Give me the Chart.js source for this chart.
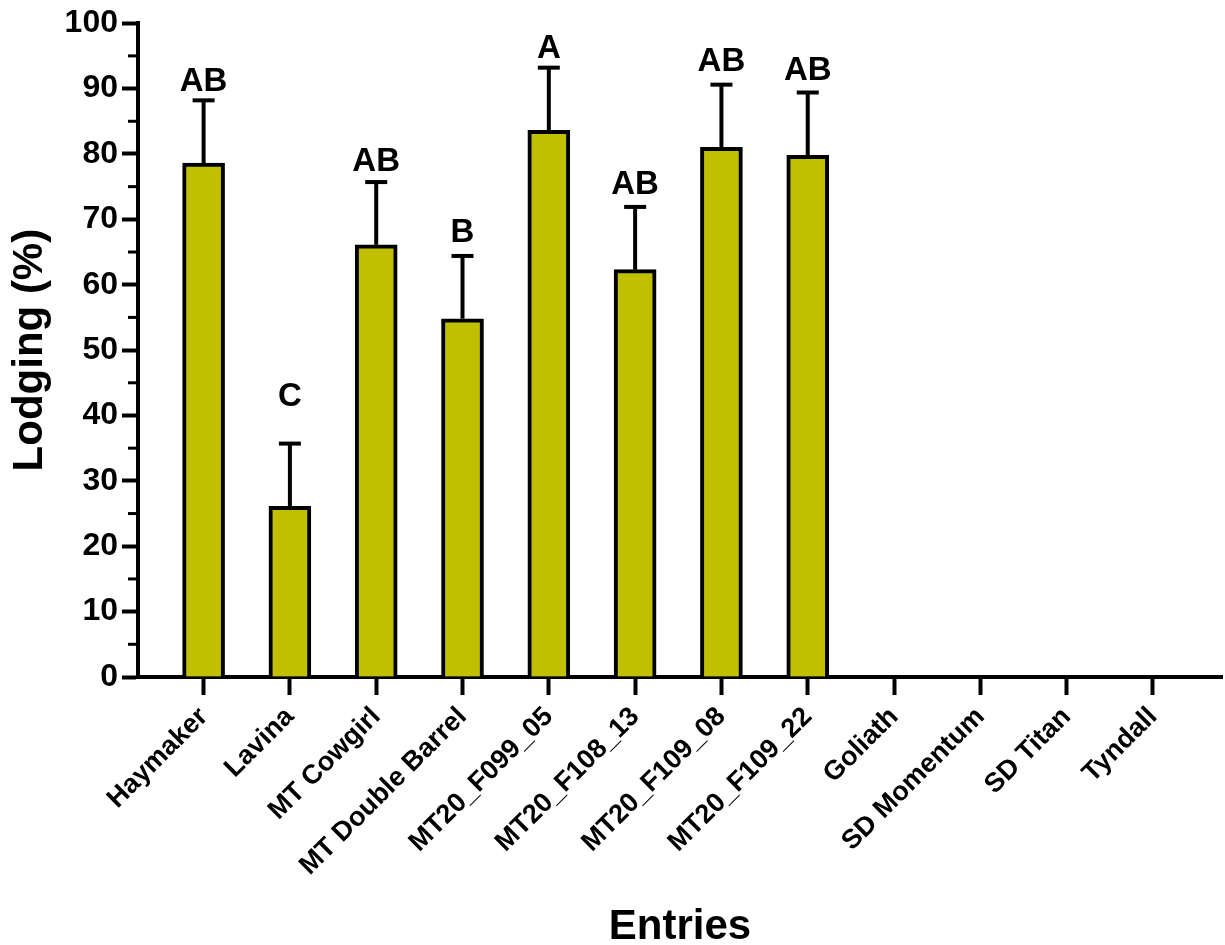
<!DOCTYPE html>
<html>
<head>
<meta charset="utf-8">
<script src="https://cdn.jsdelivr.net/npm/chart.js@4/dist/chart.umd.min.js"></script>
<style>
  html, body { margin: 0; padding: 0; background: #fff; }
  #wrap { width: 1225px; height: 945px; }
</style>
</head>
<body>
<div id="wrap"><canvas id="c" width="1225" height="945"></canvas></div>
<script>
// ---- data ----
const categories = ['Haymaker', 'Lavina', 'MT Cowgirl', 'MT Double Barrel', 'MT20_F099_05',
  'MT20_F108_13', 'MT20_F109_08', 'MT20_F109_22', 'Goliath', 'SD Momentum', 'SD Titan', 'Tyndall'];
const lodgingMeans = [78.6, 26.1, 66.1, 54.8, 83.6, 62.3, 81.0, 79.8, null, null, null, null];
const lodgingSD = [9.6, 9.6, 9.6, 9.6, 9.6, 9.6, 9.6, 9.6, null, null, null, null];
const groupLetters = ['AB', 'C', 'AB', 'B', 'A', 'AB', 'AB', 'AB', '', '', '', ''];
const letterValues = [89.6, 41.5, 77.4, 66.6, 94.7, 73.9, 92.7, 91.3, null, null, null, null];
const yTickValues = [0, 10, 20, 30, 40, 50, 60, 70, 80, 90, 100];
const yMinorTickValues = [5, 15, 25, 35, 45, 55, 65, 75, 85, 95];

const FONT = "'Liberation Sans', Arial, Helvetica, sans-serif";

const errorBarPlugin = {
  id: 'errorBars',
  afterDatasetsDraw(chart) {
    const xs = chart.scales.x, ys = chart.scales.y;
    const ctx = chart.ctx;
    ctx.save();
    ctx.strokeStyle = '#000';
    ctx.lineWidth = 4;
    ctx.lineCap = 'butt';
    lodgingMeans.forEach((m, i) => {
      if (m == null) return;
      const x = xs.getPixelForValue(i);
      const y0 = ys.getPixelForValue(m);
      const y1 = ys.getPixelForValue(m + lodgingSD[i]);
      ctx.beginPath();
      ctx.moveTo(x, y0);
      ctx.lineTo(x, y1);
      ctx.stroke();
      ctx.beginPath();
      ctx.moveTo(x - 11, y1);
      ctx.lineTo(x + 11, y1);
      ctx.stroke();
    });
    ctx.fillStyle = '#000';
    ctx.font = 'bold 33px ' + FONT;
    ctx.textAlign = 'center';
    ctx.textBaseline = 'alphabetic';
    groupLetters.forEach((t, i) => {
      if (!t) return;
      ctx.fillText(t, xs.getPixelForValue(i), ys.getPixelForValue(letterValues[i]));
    });
    // minor y ticks
    ctx.lineWidth = 3;
    yMinorTickValues.forEach(v => {
      const y = ys.getPixelForValue(v);
      ctx.beginPath();
      ctx.moveTo(chart.chartArea.left - 10, y);
      ctx.lineTo(chart.chartArea.left, y);
      ctx.stroke();
    });
    ctx.restore();
  }
};

new Chart(document.getElementById('c'), {
  type: 'bar',
  data: {
    datasets: [{
      data: lodgingMeans.map((v, i) => ({ x: i, y: v })),
      backgroundColor: '#c0c000',
      borderColor: '#000',
      borderWidth: 4,
      borderSkipped: 'start',
      barThickness: 42
    }]
  },
  options: {
    responsive: false,
    animation: false,
    layout: { padding: { top: 22, right: 3, left: 0, bottom: 0 } },
    plugins: { legend: { display: false }, tooltip: { enabled: false } },
    scales: {
      x: {
        type: 'linear',
        offset: false,
        min: -0.76,
        max: 11.8,
        afterBuildTicks: s => { s.ticks = categories.map((_, i) => ({ value: i })); },
        afterFit: s => { s.height = 268; },
        border: { display: true, color: '#000', width: 4 },
        grid: { drawOnChartArea: false, drawTicks: true, tickLength: 18, tickWidth: 4, tickColor: '#000', color: '#000', offset: false },
        ticks: {
          autoSkip: false,
          minRotation: 45,
          maxRotation: 45,
          padding: 6,
          color: '#000',
          font: { family: FONT, size: 27, weight: 'bold' },
          callback: v => categories[v]
        },
        title: {
          display: true,
          text: 'Entries',
          color: '#000',
          font: { family: FONT, size: 42, weight: 'bold', lineHeight: 0.85 },
          padding: { top: 0, bottom: 0 }
        }
      },
      y: {
        min: 0,
        max: 100,
        afterBuildTicks: s => { s.ticks = yTickValues.map(v => ({ value: v })); },
        afterFit: s => { s.width = 138; },
        border: { display: true, color: '#000', width: 4 },
        grid: { drawOnChartArea: false, drawTicks: true, tickLength: 16, tickWidth: 4, tickColor: '#000', color: '#000' },
        ticks: {
          padding: 4,
          color: '#000',
          font: { family: FONT, size: 32, weight: 'bold' }
        },
        title: {
          display: true,
          text: 'Lodging (%)',
          color: '#000',
          font: { family: FONT, size: 42, weight: 'bold', lineHeight: 1 },
          padding: { top: 9, bottom: 0 }
        }
      }
    }
  },
  plugins: [errorBarPlugin]
});
</script>
</body>
</html>
